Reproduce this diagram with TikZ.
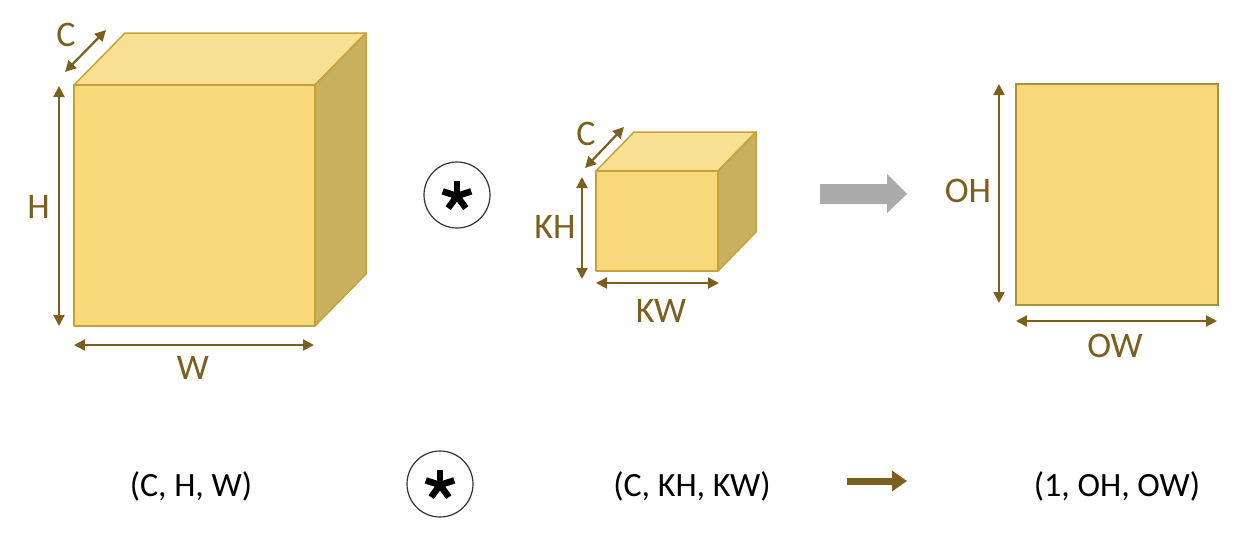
\documentclass[tikz,border=0pt]{standalone}
\usepackage{fontspec}
\setmainfont{Carlito}
\usetikzlibrary{arrows.meta}
\definecolor{frontc}{HTML}{F7D97A}
\definecolor{topc}{HTML}{F9E194}
\definecolor{sidec}{HTML}{C9B05E}
\definecolor{edgec}{HTML}{C6A13A}
\definecolor{sqedge}{HTML}{A8913D}
\definecolor{brownc}{HTML}{7B5F1E}
\definecolor{grayc}{HTML}{ABABAB}
\tikzset{
  dimarrow/.style={draw=brownc, line width=2.2pt,
    {Triangle[length=11pt,width=11pt]}-{Triangle[length=11pt,width=11pt]}},
  dimlabel/.style={text=brownc, font=\fontsize{36}{40}\selectfont, inner sep=0pt},
  shapetext/.style={text=black, font=\fontsize{34}{38}\selectfont, inner sep=0pt},
  face/.style={draw=edgec, line width=1.5pt, line join=round},
  opcircle/.style={circle, draw=black!80, line width=1.2pt, minimum size=66pt, inner sep=0pt},
  starArm/.style={line width=6.5pt, black}
}
\begin{document}
\begin{tikzpicture}[x=1pt,y=-1pt]
\useasboundingbox (0,0) rectangle (1248,544);
% ---------- big cube ----------
\coordinate (bFTL) at (74,85);
\coordinate (bFBR) at (315,326);
\coordinate (bFTR) at (315,85);
\coordinate (bBTL) at (125,33);
\coordinate (bBTR) at (366,33);
\coordinate (bBBR) at (366,274);
\fill[topc] (bFTL) -- (bBTL) -- (bBTR) -- (bFTR) -- cycle;
\fill[sidec] (bFTR) -- (bBTR) -- (bBBR) -- (bFBR) -- cycle;
\fill[frontc] (bFTL) rectangle (bFBR);
\draw[face] (bFTL) -- (bBTL) -- (bBTR) -- (bFTR) -- cycle;
\draw[face] (bFTR) -- (bBTR) -- (bBBR) -- (bFBR);
\draw[face] (bFTL) rectangle (bFBR);
% dimension arrows
\coordinate (bc1) at (65,72); \coordinate (bc2) at (106,30);
\coordinate (bh1) at (59,86); \coordinate (bh2) at (59,326);
\coordinate (bw1) at (74,345); \coordinate (bw2) at (314,345);
\draw[dimarrow] (bc1) -- (bc2);
\draw[dimarrow] (bh1) -- (bh2);
\draw[dimarrow] (bw1) -- (bw2);
\node[dimlabel] (lC) at (66,35) {C};
\node[dimlabel] (lH) at (38.5,206.5) {H};
\node[dimlabel] (lW) at (193,368) {W};
% ---------- operator circle 1 ----------
\node[opcircle] (star1) at (457,195) {};
\foreach \a in {90,162,234,306,18}
  \draw[starArm] ([yshift=-1pt]star1.center) -- ++(\a:15pt);
% ---------- small cube ----------
\coordinate (sFTL) at (596,171);
\coordinate (sFBR) at (718,271);
\coordinate (sFTR) at (718,171);
\coordinate (sBTL) at (634,132);
\coordinate (sBTR) at (756,132);
\coordinate (sBBR) at (756,232);
\fill[topc] (sFTL) -- (sBTL) -- (sBTR) -- (sFTR) -- cycle;
\fill[sidec] (sFTR) -- (sBTR) -- (sBBR) -- (sFBR) -- cycle;
\fill[frontc] (sFTL) rectangle (sFBR);
\draw[face] (sFTL) -- (sBTL) -- (sBTR) -- (sFTR) -- cycle;
\draw[face] (sFTR) -- (sBTR) -- (sBBR) -- (sFBR);
\draw[face] (sFTL) rectangle (sFBR);
\coordinate (sc1) at (585,168); \coordinate (sc2) at (624,127);
\coordinate (sh1) at (582,177); \coordinate (sh2) at (582,279);
\coordinate (sw1) at (596,283); \coordinate (sw2) at (719,283);
\draw[dimarrow] (sc1) -- (sc2);
\draw[dimarrow] (sh1) -- (sh2);
\draw[dimarrow] (sw1) -- (sw2);
\node[dimlabel] (lsC) at (586,134) {C};
\node[dimlabel] (lKH) at (555,227) {KH};
\node[dimlabel] (lKW) at (661,311) {KW};
% ---------- gray arrow ----------
\fill[grayc] (820,184) -- (887,184) -- (887,174) -- (907,194) -- (887,213) -- (887,204) -- (820,204) -- cycle;
% ---------- output square ----------
\node[draw=sqedge, fill=frontc, line width=1.5pt, minimum width=202pt, minimum height=221pt,
  inner sep=0pt, anchor=north west] (outsq) at (1015,83) {};
\coordinate (oh1) at (999,84); \coordinate (oh2) at (999,303);
\coordinate (ow1) at (1016,321); \coordinate (ow2) at (1217,321);
\draw[dimarrow] (oh1) -- (oh2);
\draw[dimarrow] (ow1) -- (ow2);
\node[dimlabel] (lOH) at (968,191) {OH};
\node[dimlabel] (lOW) at (1115,346) {OW};
% ---------- bottom row ----------
\node[shapetext] (t1) at (191,486) {(C, H, W)};
\node[opcircle] (star2) at (440,484) {};
\foreach \a in {90,162,234,306,18}
  \draw[starArm] ([yshift=-1pt]star2.center) -- ++(\a:15pt);
\node[shapetext] (t2) at (692,486) {(C, KH, KW)};
\coordinate (ar1) at (847,481);
\coordinate (ar2) at (907,481);
\draw[brownc, line width=7pt, -{Triangle[length=15pt,width=20pt]}] (ar1) -- (ar2);
\node[shapetext] (t3) at (1117,486) {(1, OH, OW)};
\end{tikzpicture}
\end{document}
